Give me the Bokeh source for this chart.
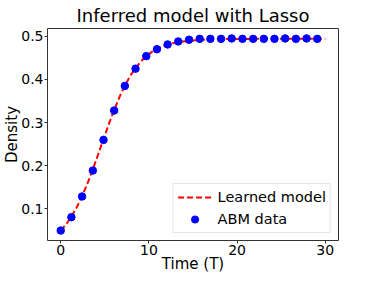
from bokeh.plotting import figure
from bokeh.models import FixedTicker, Range1d, Legend, LegendItem
from bokeh.embed import file_html
from bokeh.resources import INLINE

# ABM data (dots)
abm_t = [0.0, 1.21, 2.42, 3.64, 4.85, 6.06, 7.27, 8.48, 9.70, 10.91, 12.12, 13.33,
         14.55, 15.76, 16.97, 18.18, 19.39, 20.61, 21.82, 23.03, 24.24, 25.45,
         26.67, 27.88, 29.09]
abm_density = [0.050, 0.081, 0.129, 0.189, 0.260, 0.328, 0.385, 0.425, 0.454, 0.470,
               0.481, 0.488, 0.492, 0.494, 0.494, 0.494, 0.495, 0.494, 0.494, 0.494,
               0.494, 0.495, 0.494, 0.495, 0.494]

# Learned model (dashed line)
model_t = [0.0, 0.61, 1.21, 1.82, 2.42, 3.03, 3.64, 4.24, 4.85, 5.45, 6.06, 6.67, 7.27,
           7.88, 8.48, 9.09, 9.70, 10.30, 10.91, 11.52, 12.12, 12.73, 13.33, 14.55,
           15.76, 16.97, 18.18, 19.39, 20.61, 21.82, 23.03, 24.24, 25.45, 26.67,
           27.88, 29.09, 30.0]
model_density = [0.050, 0.0645, 0.0824, 0.1041, 0.1296, 0.159, 0.1918, 0.2261, 0.2616,
                 0.2963, 0.3295, 0.3595, 0.3856, 0.4082, 0.4265, 0.4417, 0.4538, 0.4632,
                 0.4705, 0.4762, 0.4805, 0.4838, 0.4863, 0.4897, 0.4916, 0.4928, 0.4934,
                 0.4937, 0.4939, 0.4940, 0.4940, 0.4941, 0.4941, 0.4941, 0.4941, 0.4941,
                 0.4941]

x_ticks = [0, 10, 20, 30]
y_ticks = [0.1, 0.2, 0.3, 0.4, 0.5]

FONT = "DejaVu Sans"

p = figure(width=358, height=275, output_backend="svg", toolbar_location=None,
           x_range=Range1d(-1.5, 31.5), y_range=Range1d(0.027, 0.518),
           title="Inferred model with Lasso",
           min_border_left=0, min_border_right=20, min_border_top=0, min_border_bottom=0)

p.title.text_font = FONT
p.title.text_font_size = "18px"
p.title.text_font_style = "normal"
p.title.align = "center"
p.title.standoff = 5
p.title.text_color = "black"

p.xgrid.visible = False
p.ygrid.visible = False
p.outline_line_color = "#333333"
p.outline_line_width = 1
p.background_fill_color = "white"
p.border_fill_color = "white"

for ax in (p.xaxis[0], p.yaxis[0]):
    ax.axis_line_color = None
    ax.major_tick_line_color = "#333333"
    ax.major_tick_out = 3
    ax.major_tick_in = 0
    ax.minor_tick_line_color = None
    ax.major_label_text_font = FONT
    ax.major_label_text_font_size = "14px"
    ax.major_label_text_color = "black"
    ax.axis_label_text_font = FONT
    ax.axis_label_text_font_size = "15px"
    ax.axis_label_text_font_style = "normal"
    ax.axis_label_text_color = "black"
    ax.major_label_standoff = 1

p.xaxis.axis_label_standoff = -3
p.yaxis.axis_label_standoff = -3

p.xaxis.ticker = FixedTicker(ticks=x_ticks)
p.yaxis.ticker = FixedTicker(ticks=y_ticks)
p.xaxis.axis_label = "Time (T)"
p.yaxis.axis_label = "Density"

line_r = p.line(model_t, model_density, line_color="red", line_width=2, line_dash="6 3")
dot_r = p.scatter(abm_t, abm_density, size=7.5, fill_color="blue", line_color="blue")

legend = Legend(items=[LegendItem(label="Learned model", renderers=[line_r]),
                       LegendItem(label="ABM data", renderers=[dot_r])],
                location="bottom_right")
legend.label_text_font = FONT
legend.label_text_font_size = "14.5px"
legend.label_text_color = "black"
legend.border_line_color = "#cccccc"
legend.border_line_width = 1
legend.background_fill_color = "white"
legend.background_fill_alpha = 0.8
legend.margin = 7
legend.padding = 4
legend.spacing = 4
legend.glyph_width = 34
legend.glyph_height = 18
legend.label_height = 18
legend.label_standoff = 6
p.add_layout(legend)

open("out.html", "w").write(file_html(p, INLINE))
